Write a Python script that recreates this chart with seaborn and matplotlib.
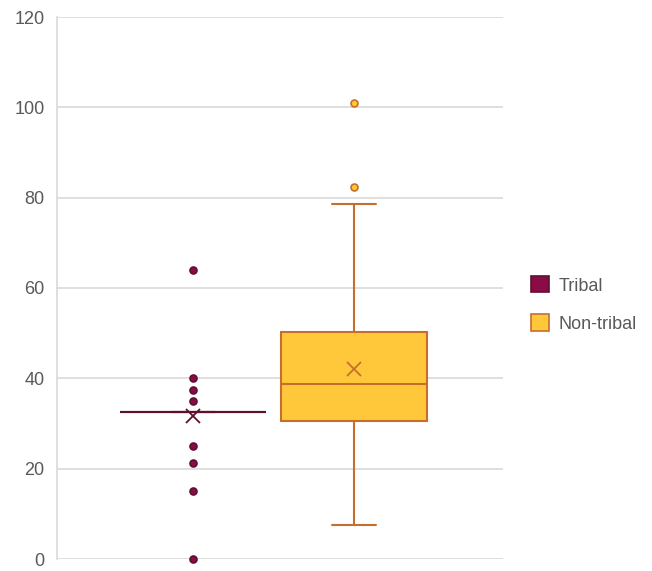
import matplotlib
matplotlib.use("Agg")
import matplotlib.pyplot as plt
import numpy as np
import pandas as pd
import seaborn as sns
from matplotlib.patches import Patch

groups = ["Tribal", "Non-tribal"]

# values
tribal = [0, 15, 21.25, 25] + [32.5] * 20 + [35, 37.5, 40, 64]
non_tribal = [7.5, 15, 16, 21, 28, 30.6, 32, 34, 35.5, 37, 38.7, 40,
              42.5, 45, 46, 50.3, 51, 52, 78.6, 82.4, 101]

fills = {"Tribal": "#8a0b45", "Non-tribal": "#ffc83a"}
edges = {"Tribal": "#5e1030", "Non-tribal": "#c66f2c"}
yticks = [0, 20, 40, 60, 80, 100, 120]

df = pd.DataFrame({
    "group": ["Tribal"] * len(tribal) + ["Non-tribal"] * len(non_tribal),
    "value": tribal + non_tribal,
})

sns.set_theme(style="white")
plt.rcParams["font.family"] = ["Liberation Sans", "DejaVu Sans"]

fig = plt.figure(figsize=(6.52, 5.71), dpi=100)
ax = fig.add_axes([57 / 652, 1 - 559 / 571, 446 / 652, 542 / 571])

for g in groups:
    sub = df[df["group"] == g].copy()
    sub["group"] = pd.Categorical(sub["group"], categories=groups)
    sns.boxplot(
        data=sub, x="group", y="value", order=groups, ax=ax,
        width=0.91, color=fills[g], saturation=1, linewidth=1.5,
        linecolor=edges[g],
        showmeans=True,
        meanprops=dict(marker="x", markeredgecolor=edges[g],
                       markersize=10, markeredgewidth=1.3),
        flierprops=dict(marker="o", markerfacecolor=fills[g],
                        markeredgecolor=edges[g], markersize=5,
                        markeredgewidth=1.2),
        capwidths=0.27,
    )

for a in ax.get_children():
    if isinstance(a, matplotlib.lines.Line2D):
        a.set_clip_on(False)

ax.set_xlim(-0.845, 1.925)
ax.set_ylim(0, 120)
ax.set_yticks(yticks)
ax.set_xticks([])
ax.set_xlabel("")
ax.set_ylabel("")
ax.yaxis.grid(True, color="#d9d9d9", linewidth=1.2)
ax.set_axisbelow(True)
for s in ["top", "right", "bottom"]:
    ax.spines[s].set_visible(False)
ax.spines["left"].set_color("#d9d9d9")
ax.spines["left"].set_linewidth(1.2)
ax.tick_params(axis="y", length=6, color="#d9d9d9", width=1.2,
               labelsize=13, labelcolor="#595959", pad=3)

handles = [Patch(facecolor=fills[g], edgecolor=edges[g], linewidth=1.2, label=g)
           for g in groups]
fig.legend(handles=handles, loc="upper left", bbox_to_anchor=(515 / 652, 1 - 260 / 571),
           frameon=False, fontsize=13, labelcolor="#595959",
           handlelength=1.0, handleheight=1.0, handletextpad=0.5, labelspacing=1.1)

fig.savefig("out.png", dpi=100)
